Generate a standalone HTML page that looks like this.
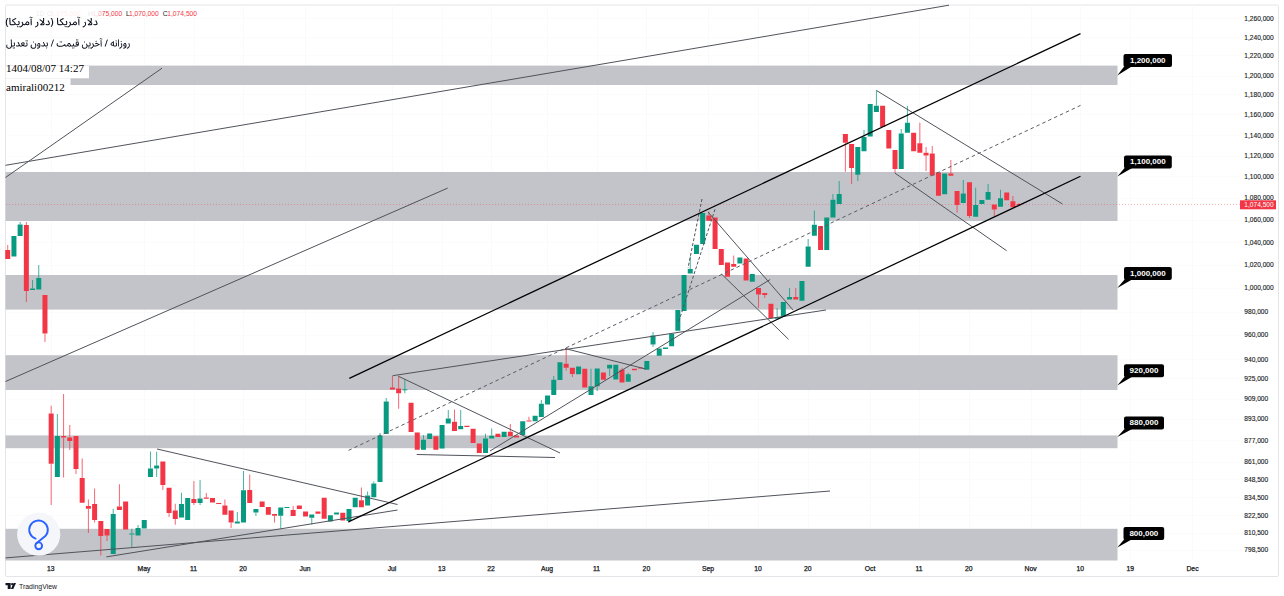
<!DOCTYPE html><html><head><meta charset="utf-8"><title>chart</title><style>html,body{margin:0;padding:0;background:#fff;width:1284px;height:596px;overflow:hidden}svg{display:block;position:absolute;left:0;top:0}text{font-family:"Liberation Sans",sans-serif}</style></head><body>
<svg width="1284" height="596" viewBox="0 0 1284 596">
<rect x="0" y="0" width="1284" height="596" fill="#fff"/>
<rect x="5.5" y="5" width="1273" height="571.5" rx="1.5" fill="#fff" stroke="#e4e5e8" stroke-width="1"/>
<path d="M51.5 5.5V560M144.5 5.5V560M194.5 5.5V560M243.5 5.5V560M305.5 5.5V560M392.5 5.5V560M442.5 5.5V560M491.5 5.5V560M547.5 5.5V560M597.5 5.5V560M646.5 5.5V560M708.5 5.5V560M758.5 5.5V560M808.5 5.5V560M870.5 5.5V560M919.5 5.5V560M969.5 5.5V560M1031.5 5.5V560M1080.5 5.5V560M1130.5 5.5V560M1192.5 5.5V560" stroke="#f9fafb" stroke-width="1" fill="none"/>
<path d="M6 18.5H1240M6 37.5H1240M6 55.5H1240M6 76.5H1240M6 94.5H1240M6 114.5H1240M6 135.5H1240M6 156.5H1240M6 176.5H1240M6 198.5H1240M6 220.5H1240M6 242.5H1240M6 265.5H1240M6 288.5H1240M6 312.5H1240M6 335.5H1240M6 359.5H1240M6 378.5H1240M6 399.5H1240M6 419.5H1240M6 440.5H1240M6 462.5H1240M6 479.5H1240M6 497.5H1240M6 515.5H1240M6 533.5H1240M6 550.5H1240" stroke="#fbfbfc" stroke-width="1" fill="none"/>
<rect x="5.5" y="65.6" width="1112.0" height="19.400000000000006" fill="#c3c4c9"/>
<rect x="5.5" y="172" width="1112.0" height="49" fill="#c3c4c9"/>
<rect x="5.5" y="275" width="1112.0" height="34.60000000000002" fill="#c3c4c9"/>
<rect x="5.5" y="355.2" width="1112.0" height="34.80000000000001" fill="#c3c4c9"/>
<rect x="5.5" y="435.4" width="1112.0" height="12.800000000000011" fill="#c3c4c9"/>
<rect x="5.5" y="528.8" width="1112.0" height="31.700000000000045" fill="#c3c4c9"/>
<line x1="6" y1="204.5" x2="1240" y2="204.5" stroke="#f23645" stroke-width="0.8" stroke-dasharray="1 2" opacity="0.45"/>
<path d="M19.64 222.00h1V224.60h-1zM32.05 280.00h1V288.50h-1zM38.26 265.00h1V278.00h-1zM56.87 414.00h1V436.00h-1zM112.72 508.70h1V514.00h-1zM131.33 528.80h1V533.50h-1zM131.33 534.50h1V547.00h-1zM137.54 525.00h1V528.00h-1zM149.95 451.40h1V468.50h-1zM156.15 451.70h1V465.50h-1zM156.15 468.50h1V477.00h-1zM180.97 492.80h1V504.00h-1zM199.58 480.00h1V498.40h-1zM199.58 503.00h1V505.00h-1zM236.81 512.00h1V521.40h-1zM243.02 471.00h1V490.30h-1zM255.43 512.50h1V516.00h-1zM280.25 515.70h1V528.50h-1zM311.27 517.70h1V524.40h-1zM348.50 521.00h1V522.40h-1zM367.11 491.50h1V495.60h-1zM373.32 481.50h1V483.50h-1zM379.52 433.00h1V435.50h-1zM385.73 398.00h1V401.60h-1zM404.34 379.50h1V389.30h-1zM404.34 390.00h1V393.30h-1zM422.96 435.00h1V439.70h-1zM447.78 410.00h1V418.40h-1zM460.19 410.00h1V426.00h-1zM485.00 433.80h1V438.50h-1zM491.21 428.40h1V435.80h-1zM540.85 400.00h1V403.80h-1zM553.26 376.00h1V379.80h-1zM590.49 368.70h1V386.30h-1zM596.69 386.30h1V391.00h-1zM609.10 368.40h1V376.00h-1zM627.72 372.80h1V374.30h-1zM652.53 332.00h1V335.50h-1zM652.53 344.40h1V347.00h-1zM689.76 256.60h1V269.00h-1zM776.63 308.00h1V317.00h-1zM789.04 288.00h1V297.00h-1zM807.65 239.00h1V246.60h-1zM813.86 210.60h1V224.70h-1zM832.47 194.00h1V199.80h-1zM838.68 181.00h1V194.00h-1zM857.29 174.70h1V181.00h-1zM863.50 130.00h1V137.00h-1zM875.91 90.00h1V105.70h-1zM900.73 129.00h1V133.60h-1zM906.93 106.00h1V122.80h-1zM962.77 180.00h1V193.40h-1zM975.18 187.80h1V205.00h-1zM987.59 184.00h1V192.00h-1zM1000.00 189.70h1V198.30h-1z" fill="#089981" fill-opacity="0.75"/>
<path d="M11.44 236.00h5.0v20.60h-5.0zM17.64 224.60h5.0v11.40h-5.0zM30.05 288.50h5.0v1.50h-5.0zM36.26 278.00h5.0v11.50h-5.0zM54.87 436.00h5.0v41.00h-5.0zM110.72 514.00h5.0v40.00h-5.0zM129.33 533.50h5.0v1.00h-5.0zM135.54 528.00h5.0v7.50h-5.0zM141.74 520.00h5.0v8.60h-5.0zM147.95 468.50h5.0v8.50h-5.0zM154.15 465.50h5.0v3.00h-5.0zM178.97 504.00h5.0v13.50h-5.0zM185.17 498.00h5.0v22.00h-5.0zM197.58 498.40h5.0v4.60h-5.0zM234.81 521.40h5.0v2.20h-5.0zM241.02 490.30h5.0v32.20h-5.0zM253.43 509.00h5.0v3.50h-5.0zM278.25 507.60h5.0v8.10h-5.0zM284.45 507.00h5.0v1.00h-5.0zM309.27 514.40h5.0v3.30h-5.0zM327.88 515.30h5.0v6.20h-5.0zM334.09 512.40h5.0v2.00h-5.0zM346.50 509.00h5.0v12.00h-5.0zM352.70 497.80h5.0v9.40h-5.0zM365.11 495.60h5.0v10.00h-5.0zM371.32 483.50h5.0v13.80h-5.0zM377.52 435.50h5.0v46.50h-5.0zM383.73 401.60h5.0v32.40h-5.0zM402.34 389.30h5.0v1.00h-5.0zM420.96 439.70h5.0v10.00h-5.0zM427.16 433.50h5.0v5.50h-5.0zM439.57 425.00h5.0v23.60h-5.0zM445.78 418.40h5.0v5.00h-5.0zM458.19 426.00h5.0v3.30h-5.0zM483.00 438.50h5.0v14.50h-5.0zM489.21 435.80h5.0v2.70h-5.0zM501.62 431.80h5.0v5.30h-5.0zM520.23 421.30h5.0v13.70h-5.0zM532.64 415.80h5.0v5.50h-5.0zM538.85 403.80h5.0v13.20h-5.0zM545.05 395.50h5.0v8.90h-5.0zM551.26 379.80h5.0v15.20h-5.0zM557.46 362.30h5.0v17.70h-5.0zM576.08 366.50h5.0v7.80h-5.0zM588.49 386.30h5.0v8.70h-5.0zM594.69 368.40h5.0v17.90h-5.0zM607.10 364.70h5.0v3.70h-5.0zM613.31 364.70h5.0v14.80h-5.0zM625.72 374.30h5.0v7.40h-5.0zM644.33 361.00h5.0v8.70h-5.0zM650.53 335.50h5.0v8.90h-5.0zM656.74 348.50h5.0v7.30h-5.0zM662.94 347.50h5.0v1.50h-5.0zM669.15 333.80h5.0v12.50h-5.0zM675.35 310.00h5.0v20.70h-5.0zM681.56 275.00h5.0v36.00h-5.0zM687.76 269.00h5.0v4.50h-5.0zM693.97 244.80h5.0v9.20h-5.0zM700.17 213.00h5.0v31.00h-5.0zM737.40 257.40h5.0v6.00h-5.0zM749.81 274.00h5.0v7.80h-5.0zM774.63 317.00h5.0v1.80h-5.0zM780.83 302.00h5.0v14.30h-5.0zM787.04 297.00h5.0v2.40h-5.0zM799.45 281.00h5.0v19.70h-5.0zM805.65 246.60h5.0v20.10h-5.0zM811.86 224.70h5.0v11.10h-5.0zM824.27 217.40h5.0v32.60h-5.0zM830.47 199.80h5.0v17.60h-5.0zM836.68 194.00h5.0v10.00h-5.0zM855.29 147.00h5.0v27.70h-5.0zM861.50 137.00h5.0v14.30h-5.0zM867.70 104.00h5.0v32.50h-5.0zM873.91 105.70h5.0v6.30h-5.0zM898.73 133.60h5.0v35.40h-5.0zM904.93 122.80h5.0v10.00h-5.0zM942.16 173.60h5.0v20.70h-5.0zM960.77 193.40h5.0v9.60h-5.0zM973.18 205.00h5.0v11.80h-5.0zM979.39 200.00h5.0v4.00h-5.0zM985.59 192.00h5.0v7.80h-5.0zM998.00 198.30h5.0v8.50h-5.0z" fill="#089981"/>
<path d="M7.24 245.00h1V250.00h-1zM25.85 222.00h1V225.00h-1zM25.85 291.00h1V302.00h-1zM44.46 333.50h1V342.00h-1zM50.67 405.80h1V413.50h-1zM50.67 463.80h1V505.00h-1zM63.08 394.00h1V436.00h-1zM63.08 437.50h1V477.60h-1zM69.28 425.00h1V437.60h-1zM69.28 441.00h1V450.00h-1zM75.49 469.00h1V474.00h-1zM81.69 458.50h1V478.00h-1zM87.90 499.40h1V506.00h-1zM87.90 508.70h1V533.00h-1zM94.10 488.50h1V504.00h-1zM94.10 520.00h1V522.40h-1zM100.31 536.00h1V555.60h-1zM106.51 535.50h1V541.00h-1zM118.92 484.30h1V506.60h-1zM162.36 485.00h1V490.00h-1zM168.56 513.00h1V517.00h-1zM174.76 503.80h1V510.50h-1zM174.76 519.00h1V524.70h-1zM193.38 481.00h1V499.00h-1zM193.38 503.00h1V505.00h-1zM205.79 493.00h1V497.40h-1zM224.40 499.60h1V505.40h-1zM230.61 522.50h1V528.00h-1zM249.22 474.40h1V490.00h-1zM274.04 515.70h1V522.40h-1zM292.66 506.00h1V510.00h-1zM360.91 487.50h1V500.30h-1zM391.93 375.70h1V387.50h-1zM398.14 376.40h1V388.50h-1zM398.14 393.30h1V408.80h-1zM453.98 409.50h1V421.70h-1zM509.82 424.00h1V431.80h-1zM528.44 416.70h1V420.40h-1zM565.67 348.00h1V363.80h-1zM565.67 367.80h1V370.60h-1zM571.87 374.00h1V377.00h-1zM621.51 367.80h1V369.70h-1zM708.38 211.40h1V215.60h-1zM733.20 255.40h1V264.00h-1zM758.02 294.40h1V308.00h-1zM764.22 295.00h1V298.00h-1zM795.24 288.00h1V297.00h-1zM844.88 142.70h1V171.80h-1zM851.09 168.00h1V184.00h-1zM894.52 169.00h1V172.70h-1zM919.34 122.80h1V143.30h-1zM925.55 147.00h1V152.70h-1zM925.55 155.60h1V171.00h-1zM931.75 146.00h1V153.60h-1zM950.36 160.00h1V173.60h-1zM956.57 205.00h1V212.70h-1zM968.98 216.00h1V218.00h-1zM993.80 209.40h1V216.40h-1zM1012.41 196.00h1V201.30h-1zM1018.62 203.00h1V204.00h-1zM1018.62 205.00h1V206.00h-1z" fill="#f23645" fill-opacity="0.75"/>
<path d="M5.24 250.00h5.0v9.00h-5.0zM23.85 225.00h5.0v66.00h-5.0zM42.46 295.00h5.0v38.50h-5.0zM48.67 413.50h5.0v50.30h-5.0zM61.08 436.00h5.0v1.50h-5.0zM67.28 437.60h5.0v3.40h-5.0zM73.49 436.00h5.0v33.00h-5.0zM79.69 478.00h5.0v24.80h-5.0zM85.90 506.00h5.0v2.70h-5.0zM92.10 504.00h5.0v16.00h-5.0zM98.31 521.00h5.0v15.00h-5.0zM104.51 529.00h5.0v6.50h-5.0zM116.92 506.60h5.0v3.40h-5.0zM123.13 501.60h5.0v28.00h-5.0zM160.36 461.50h5.0v23.50h-5.0zM166.56 487.80h5.0v25.20h-5.0zM172.76 510.50h5.0v8.50h-5.0zM191.38 499.00h5.0v4.00h-5.0zM203.79 497.40h5.0v1.30h-5.0zM209.99 498.00h5.0v4.40h-5.0zM216.20 503.00h5.0v1.00h-5.0zM222.40 505.40h5.0v9.30h-5.0zM228.61 510.50h5.0v12.00h-5.0zM247.22 490.00h5.0v13.00h-5.0zM259.63 501.60h5.0v5.40h-5.0zM265.84 507.00h5.0v7.80h-5.0zM272.04 514.00h5.0v1.70h-5.0zM290.66 510.00h5.0v6.00h-5.0zM296.86 505.40h5.0v3.60h-5.0zM303.07 511.40h5.0v5.00h-5.0zM315.48 511.40h5.0v2.30h-5.0zM321.68 497.80h5.0v21.00h-5.0zM340.29 512.70h5.0v7.70h-5.0zM358.91 500.30h5.0v6.90h-5.0zM389.93 387.50h5.0v1.90h-5.0zM396.14 388.50h5.0v4.80h-5.0zM408.55 402.80h5.0v29.20h-5.0zM414.75 432.50h5.0v17.20h-5.0zM433.37 436.30h5.0v13.40h-5.0zM451.98 421.70h5.0v9.30h-5.0zM464.39 425.70h5.0v1.30h-5.0zM470.59 428.80h5.0v14.20h-5.0zM476.80 443.50h5.0v9.50h-5.0zM495.41 433.80h5.0v3.30h-5.0zM507.82 431.80h5.0v4.50h-5.0zM514.03 435.50h5.0v2.00h-5.0zM526.44 420.40h5.0v1.00h-5.0zM563.67 363.80h5.0v4.00h-5.0zM569.87 367.80h5.0v6.20h-5.0zM582.28 368.70h5.0v18.90h-5.0zM600.90 372.40h5.0v7.40h-5.0zM619.51 369.70h5.0v12.90h-5.0zM631.92 368.70h5.0v1.50h-5.0zM638.12 367.50h5.0v1.00h-5.0zM706.38 215.60h5.0v5.10h-5.0zM712.58 217.60h5.0v31.40h-5.0zM718.79 249.00h5.0v16.00h-5.0zM724.99 262.40h5.0v14.40h-5.0zM731.20 264.00h5.0v2.70h-5.0zM743.61 258.40h5.0v22.10h-5.0zM756.02 288.00h5.0v6.40h-5.0zM762.22 293.00h5.0v2.00h-5.0zM768.43 303.70h5.0v14.60h-5.0zM793.24 297.00h5.0v2.40h-5.0zM818.06 226.00h5.0v24.00h-5.0zM842.88 134.00h5.0v8.70h-5.0zM849.09 144.00h5.0v24.00h-5.0zM880.11 105.70h5.0v21.30h-5.0zM886.32 130.00h5.0v18.40h-5.0zM892.52 150.00h5.0v19.00h-5.0zM911.14 132.80h5.0v18.50h-5.0zM917.34 143.30h5.0v9.40h-5.0zM923.55 152.70h5.0v2.90h-5.0zM929.75 153.60h5.0v21.90h-5.0zM935.95 172.50h5.0v23.30h-5.0zM948.36 173.60h5.0v2.20h-5.0zM954.57 191.00h5.0v14.00h-5.0zM966.98 182.30h5.0v33.70h-5.0zM991.80 204.40h5.0v5.00h-5.0zM1004.21 192.40h5.0v7.80h-5.0zM1010.41 201.30h5.0v5.90h-5.0zM1016.62 204.00h5.0v1.00h-5.0z" fill="#f23645"/>
<line x1="5.5" y1="165.3" x2="949" y2="5.2" stroke="#50535b" stroke-width="1"/>
<line x1="5.5" y1="177.5" x2="162" y2="68.2" stroke="#50535b" stroke-width="1"/>
<line x1="5.5" y1="381.5" x2="447.7" y2="188.1" stroke="#50535b" stroke-width="1"/>
<line x1="5.5" y1="557.9" x2="830" y2="491" stroke="#50535b" stroke-width="1"/>
<line x1="157" y1="449" x2="397.5" y2="504.5" stroke="#50535b" stroke-width="1"/>
<line x1="106.3" y1="556.9" x2="397.5" y2="510" stroke="#50535b" stroke-width="1"/>
<line x1="392.7" y1="375.7" x2="826" y2="310" stroke="#50535b" stroke-width="1"/>
<line x1="398.3" y1="376.2" x2="560" y2="453" stroke="#50535b" stroke-width="1"/>
<line x1="416.7" y1="454.5" x2="555" y2="457.5" stroke="#50535b" stroke-width="1"/>
<line x1="490" y1="451" x2="770.2" y2="279.5" stroke="#50535b" stroke-width="1"/>
<line x1="565" y1="348.5" x2="645.6" y2="369" stroke="#50535b" stroke-width="1"/>
<line x1="708" y1="212" x2="793.3" y2="310.3" stroke="#50535b" stroke-width="1"/>
<line x1="721.5" y1="274" x2="788.5" y2="339.3" stroke="#50535b" stroke-width="1"/>
<line x1="876.6" y1="90.6" x2="1062.5" y2="204" stroke="#50535b" stroke-width="1"/>
<line x1="894.8" y1="173" x2="1006.6" y2="250.7" stroke="#50535b" stroke-width="1"/>
<line x1="702" y1="199" x2="688" y2="268" stroke="#50535b" stroke-width="1" stroke-dasharray="3 2"/>
<line x1="715" y1="209.3" x2="678.6" y2="322" stroke="#50535b" stroke-width="1" stroke-dasharray="3 2"/>
<line x1="348.5" y1="450.4" x2="1080.5" y2="105.4" stroke="#5a5d66" stroke-width="1" stroke-dasharray="3.5 3"/>
<line x1="349.3" y1="378.4" x2="1080.5" y2="33.6" stroke="#000" stroke-width="1.25"/>
<line x1="348.4" y1="521.9" x2="1080.5" y2="176.3" stroke="#000" stroke-width="1.25"/>
<path d="M1124.5 66L1117.3 75.6L1132.5 66z" fill="#000"/>
<rect x="1123.5" y="54" width="48.5" height="13" rx="2" fill="#000"/>
<text x="1147.75" y="62.8" font-size="8" font-weight="bold" fill="#fff" text-anchor="middle">1,200,000</text>
<path d="M1125 167.5L1117.3 176.4L1133 167.5z" fill="#000"/>
<rect x="1124" y="155.5" width="47.8" height="13" rx="2" fill="#000"/>
<text x="1147.9" y="164.3" font-size="8" font-weight="bold" fill="#fff" text-anchor="middle">1,100,000</text>
<path d="M1125 279L1117.3 288L1133 279z" fill="#000"/>
<rect x="1124" y="267" width="47.8" height="13" rx="2" fill="#000"/>
<text x="1147.9" y="275.8" font-size="8" font-weight="bold" fill="#fff" text-anchor="middle">1,000,000</text>
<path d="M1125 376.2L1117.3 385.6L1133 376.2z" fill="#000"/>
<rect x="1124" y="364.2" width="40" height="13" rx="2" fill="#000"/>
<text x="1144.0" y="373.0" font-size="8" font-weight="bold" fill="#fff" text-anchor="middle">920,000</text>
<path d="M1125 428.4L1117.3 437L1133 428.4z" fill="#000"/>
<rect x="1124" y="416.4" width="40" height="13" rx="2" fill="#000"/>
<text x="1144.0" y="425.2" font-size="8" font-weight="bold" fill="#fff" text-anchor="middle">880,000</text>
<path d="M1124.5 539L1117.3 547.5L1132.5 539z" fill="#000"/>
<rect x="1123.5" y="527" width="40.7" height="13" rx="2" fill="#000"/>
<text x="1143.85" y="535.8" font-size="8" font-weight="bold" fill="#fff" text-anchor="middle">800,000</text>
<text x="1244.3" y="20.5" font-size="6.6" fill="#131722" stroke="#131722" stroke-width="0.12">1,260,000</text>
<text x="1244.3" y="39.7" font-size="6.6" fill="#131722" stroke="#131722" stroke-width="0.12">1,240,000</text>
<text x="1244.3" y="57.8" font-size="6.6" fill="#131722" stroke="#131722" stroke-width="0.12">1,220,000</text>
<text x="1244.3" y="78.0" font-size="6.6" fill="#131722" stroke="#131722" stroke-width="0.12">1,200,000</text>
<text x="1244.3" y="96.8" font-size="6.6" fill="#131722" stroke="#131722" stroke-width="0.12">1,180,000</text>
<text x="1244.3" y="116.8" font-size="6.6" fill="#131722" stroke="#131722" stroke-width="0.12">1,160,000</text>
<text x="1244.3" y="137.6" font-size="6.6" fill="#131722" stroke="#131722" stroke-width="0.12">1,140,000</text>
<text x="1244.3" y="158.4" font-size="6.6" fill="#131722" stroke="#131722" stroke-width="0.12">1,120,000</text>
<text x="1244.3" y="178.5" font-size="6.6" fill="#131722" stroke="#131722" stroke-width="0.12">1,100,000</text>
<text x="1244.3" y="200.1" font-size="6.6" fill="#131722" stroke="#131722" stroke-width="0.12">1,080,000</text>
<text x="1244.3" y="222.3" font-size="6.6" fill="#131722" stroke="#131722" stroke-width="0.12">1,060,000</text>
<text x="1244.3" y="244.5" font-size="6.6" fill="#131722" stroke="#131722" stroke-width="0.12">1,040,000</text>
<text x="1244.3" y="267.3" font-size="6.6" fill="#131722" stroke="#131722" stroke-width="0.12">1,020,000</text>
<text x="1244.3" y="290.3" font-size="6.6" fill="#131722" stroke="#131722" stroke-width="0.12">1,000,000</text>
<text x="1244.3" y="314.1" font-size="6.6" fill="#131722" stroke="#131722" stroke-width="0.12">980,000</text>
<text x="1244.3" y="337.3" font-size="6.6" fill="#131722" stroke="#131722" stroke-width="0.12">960,000</text>
<text x="1244.3" y="361.6" font-size="6.6" fill="#131722" stroke="#131722" stroke-width="0.12">940,000</text>
<text x="1244.3" y="380.7" font-size="6.6" fill="#131722" stroke="#131722" stroke-width="0.12">925,000</text>
<text x="1244.3" y="401.3" font-size="6.6" fill="#131722" stroke="#131722" stroke-width="0.12">909,000</text>
<text x="1244.3" y="421.4" font-size="6.6" fill="#131722" stroke="#131722" stroke-width="0.12">893,000</text>
<text x="1244.3" y="442.6" font-size="6.6" fill="#131722" stroke="#131722" stroke-width="0.12">877,000</text>
<text x="1244.3" y="464.2" font-size="6.6" fill="#131722" stroke="#131722" stroke-width="0.12">861,000</text>
<text x="1244.3" y="481.8" font-size="6.6" fill="#131722" stroke="#131722" stroke-width="0.12">848,500</text>
<text x="1244.3" y="499.7" font-size="6.6" fill="#131722" stroke="#131722" stroke-width="0.12">834,500</text>
<text x="1244.3" y="517.8" font-size="6.6" fill="#131722" stroke="#131722" stroke-width="0.12">822,500</text>
<text x="1244.3" y="535.2" font-size="6.6" fill="#131722" stroke="#131722" stroke-width="0.12">810,500</text>
<text x="1244.3" y="552.1" font-size="6.6" fill="#131722" stroke="#131722" stroke-width="0.12">798,500</text>
<rect x="1240" y="200.3" width="36" height="9" fill="#f23645"/>
<text x="1244.3" y="207.2" font-size="6.6" fill="#fff">1,074,500</text>
<text x="50.8" y="571" font-size="6.8" fill="#131722" stroke="#131722" stroke-width="0.25" text-anchor="middle">13</text>
<text x="144" y="571" font-size="6.8" fill="#131722" stroke="#131722" stroke-width="0.25" text-anchor="middle">May</text>
<text x="193.6" y="571" font-size="6.8" fill="#131722" stroke="#131722" stroke-width="0.25" text-anchor="middle">11</text>
<text x="243" y="571" font-size="6.8" fill="#131722" stroke="#131722" stroke-width="0.25" text-anchor="middle">20</text>
<text x="305" y="571" font-size="6.8" fill="#131722" stroke="#131722" stroke-width="0.25" text-anchor="middle">Jun</text>
<text x="392" y="571" font-size="6.8" fill="#131722" stroke="#131722" stroke-width="0.25" text-anchor="middle">Jul</text>
<text x="441.7" y="571" font-size="6.8" fill="#131722" stroke="#131722" stroke-width="0.25" text-anchor="middle">13</text>
<text x="491" y="571" font-size="6.8" fill="#131722" stroke="#131722" stroke-width="0.25" text-anchor="middle">22</text>
<text x="547" y="571" font-size="6.8" fill="#131722" stroke="#131722" stroke-width="0.25" text-anchor="middle">Aug</text>
<text x="596.6" y="571" font-size="6.8" fill="#131722" stroke="#131722" stroke-width="0.25" text-anchor="middle">11</text>
<text x="646.4" y="571" font-size="6.8" fill="#131722" stroke="#131722" stroke-width="0.25" text-anchor="middle">20</text>
<text x="708" y="571" font-size="6.8" fill="#131722" stroke="#131722" stroke-width="0.25" text-anchor="middle">Sep</text>
<text x="758" y="571" font-size="6.8" fill="#131722" stroke="#131722" stroke-width="0.25" text-anchor="middle">10</text>
<text x="807.7" y="571" font-size="6.8" fill="#131722" stroke="#131722" stroke-width="0.25" text-anchor="middle">20</text>
<text x="870" y="571" font-size="6.8" fill="#131722" stroke="#131722" stroke-width="0.25" text-anchor="middle">Oct</text>
<text x="919" y="571" font-size="6.8" fill="#131722" stroke="#131722" stroke-width="0.25" text-anchor="middle">11</text>
<text x="968.8" y="571" font-size="6.8" fill="#131722" stroke="#131722" stroke-width="0.25" text-anchor="middle">20</text>
<text x="1030.6" y="571" font-size="6.8" fill="#131722" stroke="#131722" stroke-width="0.25" text-anchor="middle">Nov</text>
<text x="1080.3" y="571" font-size="6.8" fill="#131722" stroke="#131722" stroke-width="0.25" text-anchor="middle">10</text>
<text x="1130.3" y="571" font-size="6.8" fill="#131722" stroke="#131722" stroke-width="0.25" text-anchor="middle">19</text>
<text x="1192.5" y="571" font-size="6.8" fill="#131722" stroke="#131722" stroke-width="0.25" text-anchor="middle">Dec</text>
<rect x="5.5" y="66" width="83.5" height="12.3" fill="#fff"/>
<rect x="5.5" y="78.3" width="65" height="7.2" fill="#fff"/>
<text x="6" y="71.5" font-family="Liberation Serif" font-size="11" fill="#000" style="font-family:'Liberation Serif',serif">1404/08/07 14:27</text>
<text x="6" y="91" font-family="Liberation Serif" font-size="11" fill="#000" style="font-family:'Liberation Serif',serif">amirali00212</text>
<defs><linearGradient id="fade" x1="0" x2="1" y1="0" y2="0"><stop offset="0" stop-color="#fff" stop-opacity="0.93"/><stop offset="0.9" stop-color="#fff" stop-opacity="0.9"/><stop offset="1" stop-color="#fff" stop-opacity="0.35"/></linearGradient></defs>
<text y="16" font-size="6.7" fill="#f23645"><tspan x="35.8" fill="#131722">1D</tspan><tspan x="46.7" fill="#131722">O</tspan><tspan x="51">1,075,000</tspan><tspan x="88" fill="#131722">H</tspan><tspan x="92.5">1,075,000</tspan><tspan x="126" fill="#131722">L</tspan><tspan x="129">1,070,000</tspan><tspan x="162.8" fill="#131722">C</tspan><tspan x="167.3">1,074,500</tspan></text>
<rect x="6" y="9" width="96.5" height="9" fill="url(#fade)"/>
<path d="M77 16h2v1h-2zM9 17h1v1h-1zM57 17h1v1h-1zM80 17h1v1h-1zM6 18h1v1h-1zM8 18h1v1h-1zM16 18h1v1h-1zM30 18h1v1h-1zM44 18h1v1h-1zM50 18h1v1h-1zM52 18h1v1h-1zM61 18h1v1h-1zM79 18h1v1h-1zM44 19h1v1h-1zM63 19h1v1h-1zM7 20h1v1h-1zM39 20h1v1h-1zM42 20h1v1h-1zM44 20h1v1h-1zM47 20h1v1h-1zM51 20h1v1h-1zM58 20h1v1h-1zM61 20h1v1h-1zM5 21h1v1h-1zM22 21h1v1h-1zM28 21h1v1h-1zM37 21h1v1h-1zM47 21h1v1h-1zM49 21h1v1h-1zM53 21h1v1h-1zM58 21h1v1h-1zM65 21h1v1h-1zM69 21h2v1h-2zM85 21h1v1h-1zM88 21h1v1h-1zM15 22h1v1h-1zM25 22h1v1h-1zM29 22h1v1h-1zM36 22h1v1h-1zM38 22h1v1h-1zM44 22h1v1h-1zM53 22h1v1h-1zM5 23h1v1h-1zM40 23h1v1h-1zM53 23h1v1h-1zM69 23h1v1h-1zM72 23h1v1h-1zM74 23h2v1h-2zM7 24h1v1h-1zM29 24h1v1h-1zM87 24h1v1h-1zM92 24h1v1h-1zM10 25h1v1h-1zM16 25h1v1h-1zM23 25h1v1h-1zM30 25h2v1h-2zM38 25h1v1h-1zM40 25h1v1h-1zM43 25h1v1h-1zM46 25h1v1h-1zM48 25h1v1h-1zM58 25h1v1h-1zM61 25h1v1h-1zM65 25h1v1h-1zM71 25h2v1h-2zM74 25h1v1h-1zM78 25h2v1h-2zM91 25h1v1h-1zM94 25h1v1h-1zM6 26h1v1h-1zM8 26h1v1h-1zM22 26h1v1h-1zM50 26h1v1h-1zM17 27h3v1h-3zM65 27h2v1h-2zM82 27h1v1h-1z" fill="#131722" fill-opacity="0.125"/>
<path d="M30 16h1v1h-1zM31 18h1v1h-1zM78 18h1v1h-1zM12 19h1v1h-1zM15 19h1v1h-1zM39 19h1v1h-1zM79 19h1v1h-1zM88 19h1v1h-1zM90 19h1v1h-1zM59 20h1v1h-1zM87 20h1v1h-1zM90 20h1v1h-1zM96 20h1v1h-1zM14 21h1v1h-1zM26 21h1v1h-1zM5 22h1v1h-1zM13 22h1v1h-1zM21 22h1v1h-1zM58 22h1v1h-1zM67 22h1v1h-1zM89 22h1v1h-1zM97 22h1v1h-1zM23 23h1v1h-1zM29 23h1v1h-1zM48 23h1v1h-1zM58 23h1v1h-1zM67 23h1v1h-1zM88 23h1v1h-1zM90 23h1v1h-1zM92 23h1v1h-1zM9 24h1v1h-1zM19 24h1v1h-1zM30 24h1v1h-1zM45 24h1v1h-1zM51 24h1v1h-1zM69 24h1v1h-1zM97 24h1v1h-1zM11 25h3v1h-3zM17 25h1v1h-1zM24 25h1v1h-1zM27 25h1v1h-1zM36 25h1v1h-1zM41 25h2v1h-2zM47 25h1v1h-1zM59 25h2v1h-2zM64 25h1v1h-1zM75 25h1v1h-1zM88 25h3v1h-3zM95 25h1v1h-1zM37 26h1v1h-1zM64 26h1v1h-1zM82 26h1v1h-1zM67 27h2v1h-2z" fill="#131722" fill-opacity="0.250"/>
<path d="M29 17h1v1h-1zM32 17h1v1h-1zM10 18h1v1h-1zM14 18h1v1h-1zM90 18h1v1h-1zM10 19h1v1h-1zM87 19h1v1h-1zM13 20h1v1h-1zM30 20h1v1h-1zM48 20h1v1h-1zM79 20h1v1h-1zM95 20h1v1h-1zM12 21h1v1h-1zM19 21h1v1h-1zM30 21h1v1h-1zM74 21h1v1h-1zM79 21h1v1h-1zM95 21h1v1h-1zM30 22h1v1h-1zM79 22h1v1h-1zM18 23h1v1h-1zM30 23h1v1h-1zM38 23h1v1h-1zM63 23h1v1h-1zM79 23h1v1h-1zM38 24h1v1h-1zM44 24h1v1h-1zM79 24h1v1h-1zM18 26h1v1h-1zM20 27h1v1h-1zM35 27h1v1h-1zM83 27h1v1h-1z" fill="#131722" fill-opacity="0.375"/>
<path d="M30 17h1v1h-1zM77 17h2v1h-2zM7 19h1v1h-1zM30 19h1v1h-1zM40 19h1v1h-1zM51 19h2v1h-2zM60 19h1v1h-1zM10 20h1v1h-1zM89 20h1v1h-1zM10 21h1v1h-1zM41 21h1v1h-1zM75 21h1v1h-1zM91 21h1v1h-1zM9 22h1v1h-1zM18 22h1v1h-1zM27 22h1v1h-1zM48 22h1v1h-1zM73 22h1v1h-1zM84 22h1v1h-1zM9 23h1v1h-1zM26 23h1v1h-1zM43 23h2v1h-2zM97 23h1v1h-1zM49 24h1v1h-1zM57 24h1v1h-1zM93 24h1v1h-1zM7 25h1v1h-1zM21 25h1v1h-1zM52 25h1v1h-1zM70 25h1v1h-1zM67 26h1v1h-1z" fill="#131722" fill-opacity="0.500"/>
<path d="M62 18h2v1h-2zM6 19h1v1h-1zM9 19h1v1h-1zM31 19h1v1h-1zM62 19h1v1h-1zM9 20h1v1h-1zM31 20h1v1h-1zM9 21h1v1h-1zM27 21h1v1h-1zM60 21h1v1h-1zM10 22h1v1h-1zM19 22h1v1h-1zM49 22h1v1h-1zM61 22h1v1h-1zM69 22h2v1h-2zM76 22h1v1h-1zM10 23h1v1h-1zM14 23h1v1h-1zM19 23h1v1h-1zM42 23h1v1h-1zM78 23h1v1h-1zM96 23h1v1h-1zM76 24h1v1h-1zM78 24h1v1h-1zM6 25h1v1h-1zM51 25h1v1h-1zM84 25h2v1h-2zM19 26h1v1h-1zM35 26h1v1h-1zM65 26h2v1h-2zM69 26h1v1h-1z" fill="#131722" fill-opacity="0.625"/>
<path d="M31 17h1v1h-1zM79 17h1v1h-1zM9 18h1v1h-1zM91 18h1v1h-1zM14 19h1v1h-1zM78 19h1v1h-1zM40 20h2v1h-2zM78 20h1v1h-1zM91 20h1v1h-1zM18 21h1v1h-1zM31 21h1v1h-1zM61 21h1v1h-1zM78 21h1v1h-1zM89 21h1v1h-1zM31 22h1v1h-1zM62 22h1v1h-1zM74 22h2v1h-2zM78 22h1v1h-1zM85 22h1v1h-1zM91 22h1v1h-1zM15 23h1v1h-1zM25 23h1v1h-1zM28 23h1v1h-1zM31 23h1v1h-1zM37 23h1v1h-1zM41 23h1v1h-1zM66 23h1v1h-1zM15 24h1v1h-1zM31 24h1v1h-1zM37 24h1v1h-1zM40 24h1v1h-1zM42 24h1v1h-1zM62 24h1v1h-1zM73 24h1v1h-1zM69 25h1v1h-1zM7 26h1v1h-1zM17 26h1v1h-1zM20 26h1v1h-1zM51 26h1v1h-1zM84 26h1v1h-1z" fill="#131722" fill-opacity="0.750"/>
<path d="M7 18h1v1h-1zM15 18h1v1h-1zM51 18h1v1h-1zM13 19h1v1h-1zM43 19h1v1h-1zM91 19h1v1h-1zM52 20h1v1h-1zM88 20h1v1h-1zM13 21h1v1h-1zM43 21h1v1h-1zM96 21h1v1h-1zM6 22h1v1h-1zM14 22h1v1h-1zM22 22h1v1h-1zM26 22h1v1h-1zM42 22h1v1h-1zM57 22h1v1h-1zM66 22h1v1h-1zM96 22h1v1h-1zM22 23h1v1h-1zM49 23h1v1h-1zM57 23h1v1h-1zM89 23h1v1h-1zM91 23h1v1h-1zM11 24h4v1h-4zM16 24h2v1h-2zM22 24h1v1h-1zM24 24h2v1h-2zM27 24h1v1h-1zM47 24h1v1h-1zM52 24h1v1h-1zM59 24h3v1h-3zM63 24h4v1h-4zM71 24h1v1h-1zM75 24h1v1h-1zM89 24h2v1h-2zM94 24h2v1h-2zM22 25h1v1h-1zM21 26h1v1h-1zM36 26h1v1h-1zM68 26h1v1h-1zM83 26h1v1h-1z" fill="#131722" fill-opacity="0.875"/>
<path d="M43 18h1v1h-1zM57 18h1v1h-1zM57 19h1v1h-1zM61 19h1v1h-1zM6 20h1v1h-1zM12 20h1v1h-1zM43 20h1v1h-1zM57 20h1v1h-1zM60 20h1v1h-1zM6 21h1v1h-1zM42 21h1v1h-1zM48 21h1v1h-1zM52 21h1v1h-1zM57 21h1v1h-1zM66 21h1v1h-1zM90 21h1v1h-1zM28 22h1v1h-1zM37 22h1v1h-1zM43 22h1v1h-1zM52 22h1v1h-1zM90 22h1v1h-1zM6 23h1v1h-1zM52 23h1v1h-1zM62 23h1v1h-1zM70 23h1v1h-1zM73 23h1v1h-1zM76 23h1v1h-1zM85 23h1v1h-1zM6 24h1v1h-1zM10 24h1v1h-1zM18 24h1v1h-1zM23 24h1v1h-1zM26 24h1v1h-1zM28 24h1v1h-1zM41 24h1v1h-1zM43 24h1v1h-1zM46 24h1v1h-1zM48 24h1v1h-1zM58 24h1v1h-1zM70 24h1v1h-1zM72 24h1v1h-1zM74 24h1v1h-1zM85 24h1v1h-1zM88 24h1v1h-1zM91 24h1v1h-1zM96 24h1v1h-1zM37 25h1v1h-1z" fill="#131722" fill-opacity="1.000"/>
<path d="M99 38h1v1h-1zM102 38h1v1h-1zM10 39h1v1h-1zM78 39h1v1h-1zM99 39h2v1h-2zM102 39h1v1h-1zM78 40h1v1h-1zM96 40h1v1h-1zM10 41h1v1h-1zM25 41h1v1h-1zM59 41h1v1h-1zM78 41h1v1h-1zM112 41h1v1h-1zM115 41h1v1h-1zM10 42h1v1h-1zM13 42h1v1h-1zM21 42h1v1h-1zM24 42h1v1h-1zM27 42h1v1h-1zM59 42h1v1h-1zM75 42h1v1h-1zM90 42h1v1h-1zM96 42h1v1h-1zM115 42h1v1h-1zM10 43h1v1h-1zM13 43h1v1h-1zM34 43h1v1h-1zM37 43h1v1h-1zM56 43h1v1h-1zM67 43h1v1h-1zM70 43h1v1h-1zM77 43h1v1h-1zM112 43h1v1h-1zM115 43h1v1h-1zM120 43h1v1h-1zM123 43h1v1h-1zM6 44h2v1h-2zM36 44h1v1h-1zM43 44h1v1h-1zM63 44h1v1h-1zM75 44h1v1h-1zM122 44h1v1h-1zM56 45h1v1h-1zM92 45h1v1h-1zM104 45h1v1h-1zM128 45h1v1h-1zM14 46h1v1h-1zM22 46h1v1h-1zM36 46h2v1h-2zM44 46h1v1h-1zM47 46h1v1h-1zM50 46h1v1h-1zM63 46h1v1h-1zM67 46h1v1h-1zM81 46h1v1h-1zM100 46h1v1h-1zM104 46h1v1h-1zM113 46h1v1h-1zM116 46h1v1h-1zM122 46h2v1h-2zM12 47h1v1h-1zM30 47h1v1h-1zM47 47h1v1h-1zM87 47h1v1h-1zM126 47h1v1h-1zM129 47h1v1h-1zM12 48h1v1h-1zM35 48h1v1h-1zM74 48h1v1h-1zM82 48h1v1h-1zM86 48h1v1h-1zM126 48h1v1h-1zM128 48h1v1h-1z" fill="#131722" fill-opacity="0.125"/>
<path d="M10 40h1v1h-1zM25 40h1v1h-1zM52 40h1v1h-1zM77 40h1v1h-1zM115 40h1v1h-1zM26 41h2v1h-2zM76 41h1v1h-1zM107 41h1v1h-1zM116 41h1v1h-1zM120 41h1v1h-1zM17 42h1v1h-1zM46 42h2v1h-2zM60 42h1v1h-1zM19 43h1v1h-1zM46 43h1v1h-1zM51 43h1v1h-1zM73 43h1v1h-1zM75 43h1v1h-1zM86 43h1v1h-1zM93 43h1v1h-1zM98 43h1v1h-1zM110 43h1v1h-1zM31 44h1v1h-1zM38 44h1v1h-1zM40 44h1v1h-1zM52 44h1v1h-1zM65 44h1v1h-1zM82 44h1v1h-1zM87 44h1v1h-1zM89 44h1v1h-1zM100 44h1v1h-1zM106 44h1v1h-1zM112 44h1v1h-1zM128 44h1v1h-1zM7 45h1v1h-1zM30 45h1v1h-1zM36 45h1v1h-1zM59 45h3v1h-3zM69 45h1v1h-1zM98 45h1v1h-1zM100 45h1v1h-1zM122 45h1v1h-1zM7 46h1v1h-1zM10 46h1v1h-1zM19 46h1v1h-1zM23 46h1v1h-1zM40 46h2v1h-2zM57 46h1v1h-1zM73 46h1v1h-1zM77 46h1v1h-1zM96 46h1v1h-1zM8 47h2v1h-2zM33 47h1v1h-1zM73 47h2v1h-2zM84 47h1v1h-1zM89 47h1v1h-1zM119 47h1v1h-1zM123 47h1v1h-1zM31 48h1v1h-1zM73 48h1v1h-1zM88 48h2v1h-2z" fill="#131722" fill-opacity="0.250"/>
<path d="M101 38h1v1h-1zM11 39h1v1h-1zM53 39h1v1h-1zM77 39h1v1h-1zM101 39h1v1h-1zM107 39h1v1h-1zM26 40h1v1h-1zM76 40h1v1h-1zM100 40h2v1h-2zM106 40h1v1h-1zM116 40h1v1h-1zM33 41h1v1h-1zM53 41h1v1h-1zM60 41h1v1h-1zM84 41h1v1h-1zM95 41h1v1h-1zM100 41h1v1h-1zM14 42h1v1h-1zM26 42h1v1h-1zM61 42h1v1h-1zM89 42h1v1h-1zM100 42h1v1h-1zM111 42h1v1h-1zM116 42h1v1h-1zM22 43h1v1h-1zM27 43h1v1h-1zM100 43h1v1h-1zM105 43h1v1h-1zM128 43h2v1h-2zM18 44h1v1h-1zM24 44h1v1h-1zM26 44h1v1h-1zM56 44h1v1h-1zM68 44h2v1h-2zM92 44h1v1h-1zM97 44h1v1h-1zM110 44h1v1h-1zM124 44h1v1h-1zM126 44h1v1h-1zM27 45h1v1h-1zM40 45h1v1h-1zM58 45h1v1h-1zM16 46h1v1h-1zM18 46h1v1h-1zM26 46h1v1h-1zM30 46h1v1h-1zM51 46h1v1h-1zM68 46h1v1h-1zM70 46h1v1h-1zM89 46h1v1h-1zM101 46h1v1h-1zM105 46h1v1h-1zM118 46h1v1h-1zM126 46h1v1h-1zM128 46h1v1h-1zM11 47h1v1h-1zM13 47h1v1h-1zM32 47h1v1h-1zM37 47h1v1h-1zM46 47h1v1h-1zM72 47h1v1h-1zM85 47h1v1h-1zM88 47h1v1h-1zM90 47h1v1h-1zM7 48h1v1h-1zM10 48h1v1h-1zM13 48h2v1h-2zM46 48h1v1h-1zM72 48h1v1h-1zM90 48h1v1h-1zM120 48h1v1h-1z" fill="#131722" fill-opacity="0.375"/>
<path d="M76 39h1v1h-1zM118 39h1v1h-1zM27 40h1v1h-1zM61 41h1v1h-1zM77 41h1v1h-1zM96 41h1v1h-1zM101 41h1v1h-1zM33 42h1v1h-1zM84 42h1v1h-1zM101 42h1v1h-1zM35 43h1v1h-1zM43 43h2v1h-2zM89 43h2v1h-2zM92 43h1v1h-1zM27 44h1v1h-1zM12 45h2v1h-2zM17 45h1v1h-1zM20 45h2v1h-2zM24 45h2v1h-2zM38 45h1v1h-1zM41 45h2v1h-2zM62 45h1v1h-1zM66 45h1v1h-1zM71 45h1v1h-1zM74 45h3v1h-3zM78 45h1v1h-1zM86 45h1v1h-1zM88 45h1v1h-1zM90 45h1v1h-1zM94 45h2v1h-2zM111 45h1v1h-1zM114 45h2v1h-2zM126 45h1v1h-1zM12 46h2v1h-2zM17 46h1v1h-1zM21 46h1v1h-1zM24 46h1v1h-1zM38 46h1v1h-1zM42 46h2v1h-2zM45 46h2v1h-2zM62 46h1v1h-1zM65 46h2v1h-2zM71 46h2v1h-2zM74 46h1v1h-1zM76 46h1v1h-1zM86 46h1v1h-1zM92 46h1v1h-1zM94 46h2v1h-2zM114 46h2v1h-2zM124 46h1v1h-1zM6 47h1v1h-1zM14 47h1v1h-1zM34 47h1v1h-1zM83 47h1v1h-1zM121 47h1v1h-1zM127 47h1v1h-1zM38 48h1v1h-1zM119 48h1v1h-1zM123 48h2v1h-2z" fill="#131722" fill-opacity="0.500"/>
<path d="M100 38h1v1h-1zM53 40h1v1h-1zM107 40h1v1h-1zM52 41h1v1h-1zM113 41h1v1h-1zM121 41h1v1h-1zM22 42h2v1h-2zM77 42h2v1h-2zM23 43h2v1h-2zM26 43h1v1h-1zM52 43h1v1h-1zM57 43h1v1h-1zM76 43h1v1h-1zM101 43h1v1h-1zM106 43h1v1h-1zM121 43h1v1h-1zM19 44h1v1h-1zM21 44h3v1h-3zM37 44h1v1h-1zM51 44h1v1h-1zM57 44h1v1h-1zM67 44h1v1h-1zM70 44h1v1h-1zM90 44h1v1h-1zM93 44h1v1h-1zM99 44h1v1h-1zM101 44h1v1h-1zM123 44h1v1h-1zM125 44h1v1h-1zM129 44h1v1h-1zM6 45h1v1h-1zM16 45h1v1h-1zM43 45h1v1h-1zM45 45h2v1h-2zM72 45h1v1h-1zM101 45h1v1h-1zM121 45h1v1h-1zM123 45h3v1h-3zM20 46h1v1h-1zM25 46h1v1h-1zM31 46h1v1h-1zM58 46h1v1h-1zM75 46h1v1h-1zM87 46h2v1h-2zM93 46h1v1h-1zM129 46h1v1h-1zM38 47h1v1h-1zM91 47h1v1h-1zM124 47h1v1h-1zM34 48h1v1h-1zM37 48h1v1h-1zM83 48h1v1h-1zM85 48h1v1h-1zM91 48h1v1h-1zM127 48h1v1h-1z" fill="#131722" fill-opacity="0.625"/>
<path d="M11 40h1v1h-1zM11 41h1v1h-1zM106 41h1v1h-1zM11 42h1v1h-1zM18 42h1v1h-1zM39 43h1v1h-1zM47 43h1v1h-1zM95 43h1v1h-1zM97 43h1v1h-1zM111 43h1v1h-1zM39 44h1v1h-1zM64 44h1v1h-1zM86 44h1v1h-1zM105 44h1v1h-1zM111 44h1v1h-1zM18 45h1v1h-1zM26 45h1v1h-1zM31 45h1v1h-1zM35 45h1v1h-1zM37 45h1v1h-1zM39 45h1v1h-1zM47 45h1v1h-1zM65 45h1v1h-1zM68 45h1v1h-1zM77 45h1v1h-1zM87 45h1v1h-1zM89 45h1v1h-1zM96 45h1v1h-1zM112 45h1v1h-1zM129 45h1v1h-1zM6 46h1v1h-1zM35 46h1v1h-1zM60 46h2v1h-2zM69 46h1v1h-1zM82 46h1v1h-1zM7 47h1v1h-1zM35 47h1v1h-1zM39 47h1v1h-1zM8 48h2v1h-2zM32 48h2v1h-2zM84 48h1v1h-1z" fill="#131722" fill-opacity="0.750"/>
<path d="M118 40h1v1h-1zM118 41h1v1h-1zM43 42h1v1h-1zM52 42h1v1h-1zM76 42h1v1h-1zM106 42h1v1h-1zM112 42h2v1h-2zM118 42h1v1h-1zM11 43h1v1h-1zM14 43h1v1h-1zM18 43h1v1h-1zM21 43h1v1h-1zM38 43h1v1h-1zM68 43h1v1h-1zM78 43h1v1h-1zM113 43h1v1h-1zM116 43h1v1h-1zM118 43h1v1h-1zM124 43h2v1h-2zM11 44h1v1h-1zM14 44h1v1h-1zM35 44h1v1h-1zM44 44h1v1h-1zM47 44h1v1h-1zM73 44h1v1h-1zM76 44h1v1h-1zM78 44h1v1h-1zM116 44h1v1h-1zM118 44h1v1h-1zM121 44h1v1h-1zM14 45h1v1h-1zM51 45h1v1h-1zM63 45h2v1h-2zM67 45h1v1h-1zM82 45h1v1h-1zM97 45h1v1h-1zM105 45h1v1h-1zM113 45h1v1h-1zM116 45h1v1h-1zM118 45h1v1h-1zM11 46h1v1h-1zM39 46h1v1h-1zM59 46h1v1h-1zM121 46h1v1h-1zM125 46h1v1h-1zM10 47h1v1h-1zM82 47h1v1h-1zM86 47h1v1h-1zM92 47h1v1h-1zM120 47h1v1h-1zM125 47h1v1h-1zM128 47h1v1h-1z" fill="#131722" fill-opacity="0.875"/>
<path d="M69 43h1v1h-1zM96 43h1v1h-1zM77 44h1v1h-1zM98 44h1v1h-1zM113 44h1v1h-1zM11 45h1v1h-1zM19 45h1v1h-1zM22 45h2v1h-2zM44 45h1v1h-1zM57 45h1v1h-1zM70 45h1v1h-1zM73 45h1v1h-1zM93 45h1v1h-1zM31 47h1v1h-1z" fill="#131722" fill-opacity="1.000"/>
<circle cx="38.7" cy="534.2" r="21.6" fill="#f5f6f9"/>
<path d="M35.6 538.6A9.3 9.3 0 1 1 45.6 535.8L36.2 543.6" fill="none" stroke="#2962ff" stroke-width="1.9" stroke-linecap="round" stroke-linejoin="round"/>
<circle cx="38.7" cy="545.8" r="3.4" fill="none" stroke="#2962ff" stroke-width="1.9"/>
<path d="M5.5 583h5.2v5.9h-3v-3.7h-2.2z" fill="#131722"/><circle cx="12.2" cy="584.2" r="1.15" fill="#131722"/><path d="M13.6 583h2.4l-2.7 5.9h-2.4z" fill="#131722"/>
<text x="19" y="589.3" font-size="7.3" fill="#131722" textLength="38" lengthAdjust="spacingAndGlyphs">TradingView</text>
</svg></body></html>
